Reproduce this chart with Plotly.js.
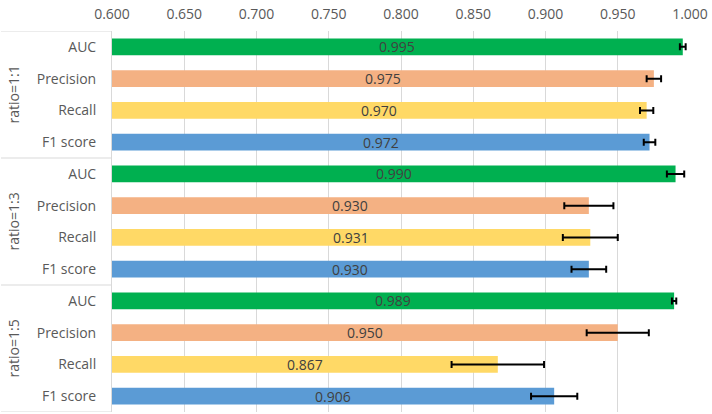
<!DOCTYPE html>
<html>
<head>
<meta charset="utf-8">
<script src="https://cdn.plot.ly/plotly-3.0.1.min.js"></script>
<style>
  html, body { margin: 0; padding: 0; background: #fff; }
  #chart { width: 712px; height: 414px; }
</style>
</head>
<body>
<div id="chart"></div>
<script>
// data
var groups = ["ratio=1:1", "ratio=1:3", "ratio=1:5"];
var metrics = ["AUC", "Precision", "Recall", "F1 score"];
var colors = ["#00B050", "#F4B183", "#FFD966", "#5B9BD5"];

// values per metric, one entry per group
var auc = [0.995, 0.990, 0.989];
var precision = [0.975, 0.930, 0.950];
var recall = [0.970, 0.931, 0.867];
var f1 = [0.972, 0.930, 0.906];

// error bar half widths
var aucErr = [0.002, 0.006, 0.0015];
var precisionErr = [0.005, 0.017, 0.0215];
var recallErr = [0.0046, 0.019, 0.032];
var f1Err = [0.004, 0.012, 0.016];

var xTicks = [0.60, 0.65, 0.70, 0.75, 0.80, 0.85, 0.90, 0.95, 1.00];
var xMin = 0.6, xMax = 1.0;

var values = [auc, precision, recall, f1];
var errors = [aucErr, precisionErr, recallErr, f1Err];
var perGroup = metrics.length;

var traces = [];
var annotations = [];
for (var m = 0; m < metrics.length; m++) {
  var ys = [];
  for (var g = 0; g < groups.length; g++) {
    ys.push(g * perGroup + m);
    // value label centred in the visible part of the bar
    annotations.push({
      xref: 'x', yref: 'y',
      x: (xMin + values[m][g]) / 2,
      y: g * perGroup + m,
      text: values[m][g].toFixed(3),
      showarrow: false,
      xanchor: 'center',
      font: { family: 'Open Sans', size: 14, color: '#404040' }
    });
  }
  traces.push({
    type: 'bar',
    orientation: 'h',
    name: metrics[m],
    x: values[m],
    y: ys,
    width: 0.53,
    marker: { color: colors[m] },
    error_x: {
      type: 'data',
      array: errors[m],
      visible: true,
      color: '#000',
      thickness: 2,
      width: 3.5
    },
    hoverinfo: 'skip'
  });
}

// tick labels for the y axis
var tickVals = [];
var tickText = [];
for (var g = 0; g < groups.length; g++) {
  for (var m = 0; m < metrics.length; m++) {
    tickVals.push(g * perGroup + m);
    tickText.push(metrics[m]);
  }
}

var plotW = 712 - 112 - 22;
var leftEdge = -112 / plotW;

var shapes = [];
for (var g = 0; g <= groups.length; g++) {
  var yb = g * perGroup - 0.5;
  shapes.push({
    type: 'line', xref: 'paper', yref: 'y',
    x0: leftEdge + 1 / plotW, x1: -1 / plotW, y0: yb, y1: yb,
    line: { color: '#D9D9D9', width: 1 }
  });
}
for (var g = 0; g < groups.length; g++) {
  annotations.push({
    xref: 'paper', yref: 'y',
    x: (13 - 112) / plotW, y: g * perGroup + (perGroup - 1) / 2,
    xanchor: 'center', yanchor: 'middle',
    text: groups[g],
    showarrow: false,
    textangle: -90,
    font: { family: 'Open Sans', size: 14, color: '#595959' }
  });
}

var layout = {
  width: 712,
  height: 414,
  margin: { l: 112, r: 22, t: 31, b: 2 },
  paper_bgcolor: '#fff',
  plot_bgcolor: '#fff',
  barmode: 'overlay',
  showlegend: false,
  font: { family: 'Open Sans', size: 14, color: '#595959' },
  xaxis: {
    side: 'top',
    range: [xMin, xMax],
    tickvals: xTicks,
    tickformat: '.3f',
    showgrid: true,
    gridcolor: '#D9D9D9',
    gridwidth: 1,
    zeroline: false,
    showline: false,
    ticks: '',
    ticklabelstandoff: 8,
    tickfont: { family: 'Open Sans', size: 14, color: '#595959' }
  },
  yaxis: {
    range: [perGroup * groups.length - 0.5, -0.5],
    tickvals: tickVals,
    ticktext: tickText,
    showgrid: false,
    zeroline: false,
    showline: true,
    linecolor: '#D9D9D9',
    linewidth: 1,
    ticks: '',
    ticklabelstandoff: 12,
    tickfont: { family: 'Open Sans', size: 14, color: '#595959' }
  },
  shapes: shapes,
  annotations: annotations
};

Plotly.newPlot('chart', traces, layout, { displayModeBar: false, staticPlot: true });
</script>
</body>
</html>
